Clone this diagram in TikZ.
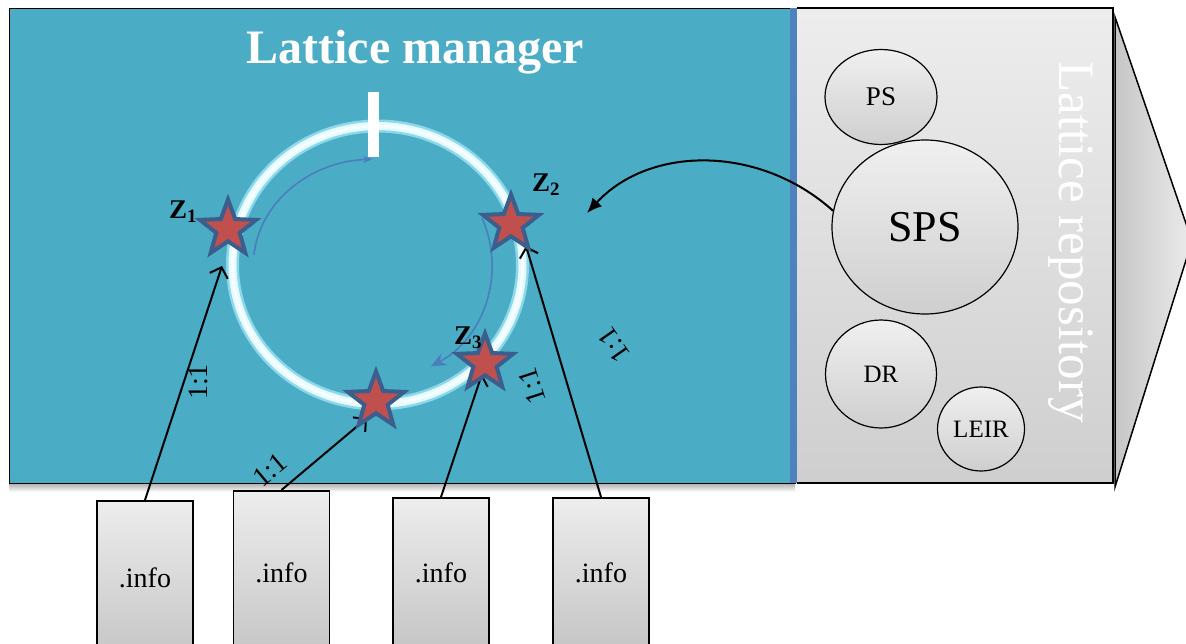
\documentclass[tikz,border=0pt]{standalone}
\usepackage{fontspec}
\setmainfont{Liberation Serif}
\usetikzlibrary{shapes.geometric,arrows.meta}
\definecolor{mgrteal}{HTML}{4BACC6}
\definecolor{mgrbar}{HTML}{4F81BD}
\definecolor{starred}{HTML}{C0504D}
\definecolor{stardark}{HTML}{3B5E8C}
\definecolor{ringglow}{HTML}{A8EAF7}
\definecolor{ringcore}{HTML}{E4FAFF}
\definecolor{arcblue}{HTML}{4A7EBF}
\begin{document}
\begin{tikzpicture}[x=1pt,y=-1pt,
  circ/.style={ellipse, draw=black, line width=1.2pt, top color=gray!12, bottom color=gray!38, inner sep=0pt},
  infobox/.style={rectangle, draw=black, line width=1.5pt, top color=gray!14, bottom color=gray!45, minimum width=96pt, anchor=north, inner sep=0pt, font=\fontsize{28}{30}\selectfont},
  starmark/.style={star, star points=5, star point ratio=2.4, minimum size=59pt, fill=starred, draw=stardark, line width=4pt, inner sep=0pt},
  link/.style={draw=black, line width=2pt, -{Straight Barb[length=9pt,width=19pt,line width=2pt]}},
  ratio/.style={font=\fontsize{28}{30}\selectfont, inner sep=0pt},
  zlab/.style={font=\fontsize{27}{29}\selectfont\bfseries, inner sep=0pt},
  arcarrow/.style={draw=arcblue, line width=1.6pt}
]
\useasboundingbox (0,0) rectangle (1186,643);
\clip (0,0) rectangle (1186,643);

% shadow under the manager panel
\shade[top color=gray!65, bottom color=white] (9,483) rectangle (795,492);

% lattice manager panel
\path[fill=mgrteal, draw=black, line width=1pt] (9,8) rectangle (795,483);
\fill[mgrbar] (790,8) rectangle (797,483);

% repository panel and arrow head
\shade[left color=gray!45, right color=gray!15, draw=black, line width=1.5pt] (1115,17) -- (1192,241) -- (1115,487) -- cycle;
\shade[top color=gray!14, bottom color=gray!38] (797,8) rectangle (1113,483);
\draw[black, line width=1.5pt] (797,8) -- (1113,8) -- (1113,483) -- (797,483);

% title
\node[text=white, font=\fontsize{48}{50}\selectfont\bfseries, inner sep=0pt] (title) at (415,52) {Lattice manager};

% ring
\draw[ringglow, line width=13pt, opacity=0.7] (377.5,265) ellipse [x radius=145, y radius=139];
\draw[ringcore, line width=8pt] (377.5,265) ellipse [x radius=145, y radius=139];
\draw[white, line width=3pt, opacity=0.7] (377.5,265) ellipse [x radius=145, y radius=139];

% injection marker
\fill[white] (368,92) rectangle (379,157);

% blue direction arcs
\draw[arcarrow, -{Stealth[length=9pt,width=7pt]}] (254,255) arc[start angle=185, end angle=268, x radius=123, y radius=105];
\draw[arcarrow, -{Stealth[length=15pt,width=13pt]}] (482,218) arc[start angle=-24, end angle=62, x radius=115, y radius=115];

% arrow target points on the ring
\coordinate (t1) at (222,266);
\coordinate (t2) at (367,418);
\coordinate (t3) at (482,374);
\coordinate (t4) at (526,246);

% info boxes
\node[infobox, minimum height=154pt] (box1) at (145,500) {.info};
\node[infobox, minimum height=164pt] (box2) at (281.5,490) {.info};
\node[infobox, minimum height=150pt] (box3) at (441,497) {.info};
\node[infobox, minimum height=150pt] (box4) at (601,497) {.info};

% links
\draw[link] (box1.north) -- (t1);
\draw[link] (box2.north) -- (t2);
\draw[link] (box3.north) -- (t3);
\draw[link] (box4.north) -- (t4);

% stars
\node[starmark] (s1) at (228,229) {};
\node[starmark] (s2) at (511,224) {};
\node[starmark] (s3) at (485,363) {};
\node[starmark] (s4) at (376,401) {};

% Z labels
\node[zlab] (z1) at (183,212) {Z\textsubscript{1}};
\node[zlab] (z2) at (546,185) {Z\textsubscript{2}};
\node[zlab] (z3) at (468,338) {Z\textsubscript{3}};

% ratio labels
\node[ratio, rotate=90] (r1) at (198,382) {1:1};
\node[ratio, rotate=40] (r2) at (270,470) {1:1};
\node[ratio, rotate=108] (r3) at (532,386) {1:1};
\node[ratio, rotate=125] (r4) at (614,345) {1:1};

% repository circles
\node[circ, minimum width=112pt, minimum height=95pt, font=\fontsize{27}{29}\selectfont] (ps) at (881,97) {PS};
\node[circ, minimum width=186pt, minimum height=174pt, font=\fontsize{44}{46}\selectfont] (sps) at (925,227) {SPS};
\node[circ, minimum width=111pt, minimum height=108pt, font=\fontsize{25}{27}\selectfont] (dr) at (881,374) {DR};
\node[circ, minimum width=87pt, minimum height=84pt, font=\fontsize{25}{27}\selectfont] (leir) at (981,429) {LEIR};

\node[text=white, rotate=-90, font=\fontsize{51}{53}\selectfont, inner sep=0pt] (repo) at (1071,242) {Lattice repository};

% link from SPS to the ring
\coordinate (spsin) at (587,213);
\draw[black, line width=2pt, -{Latex[length=15pt,width=13pt]}] (sps.170) .. controls (760,145) and (650,145) .. (spsin);
\end{tikzpicture}
\end{document}
